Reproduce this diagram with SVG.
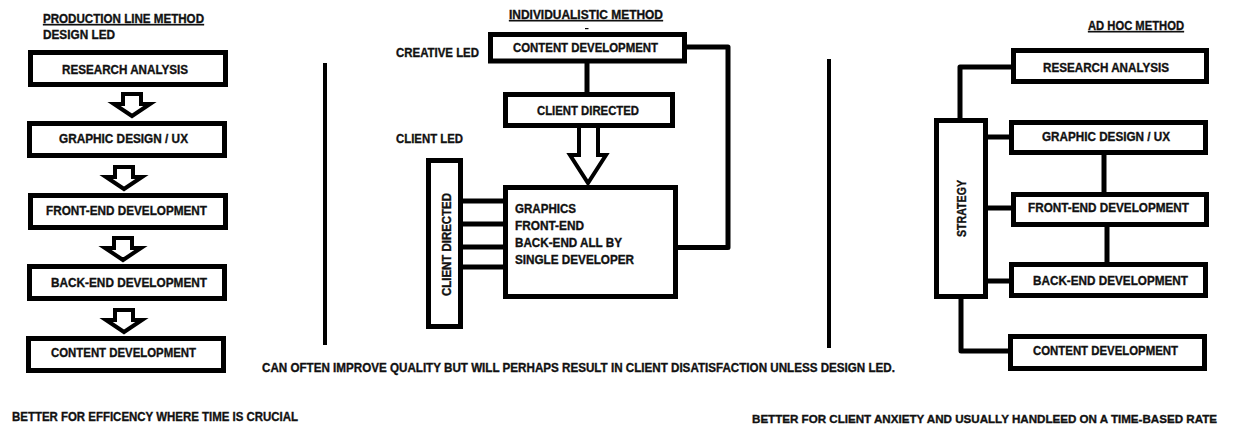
<svg xmlns="http://www.w3.org/2000/svg" xmlns:xlink="http://www.w3.org/1999/xlink" width="1234" height="434" viewBox="0 0 1234 434">
<style>
text{font-family:"Liberation Sans",Arial,sans-serif;font-weight:bold;font-size:12.5px;fill:#111;stroke:#111;stroke-width:0.35px;}
.ul{text-decoration:underline;}
.box{fill:#fff;stroke:#000;stroke-width:5;}
.ln{fill:none;stroke:#000;stroke-width:5;stroke-linejoin:round;}
.sep{fill:none;stroke:#000;stroke-width:4;}
.arw{fill:#fff;stroke:#000;stroke-width:4;stroke-linejoin:miter;}
</style>
<defs>
<path id="blk" class="arw" d="M-9,0 H9 V10 H18 L0,22 L-18,10 H-9 Z"/>
</defs>
<rect width="1234" height="434" fill="#fff"/>

<!-- LEFT: production line -->
<g id="titles-left">
<text class="ul" x="43" y="23" textLength="161" lengthAdjust="spacingAndGlyphs">PRODUCTION LINE METHOD</text>
<text x="43" y="39" textLength="72" lengthAdjust="spacingAndGlyphs">DESIGN LED</text>
</g>
<g id="connectors">
<use xlink:href="#blk" x="132" y="94"/>
<use xlink:href="#blk" x="124" y="167"/>
<use xlink:href="#blk" x="123" y="238"/>
<use xlink:href="#blk" x="124" y="310"/>
<!-- middle -->
<path class="ln" d="M587,63 V93"/>
<path class="arw" d="M579,126 H598 V155 H606 L588,183 L570,155 H579 Z"/>
<path class="ln" d="M686,47 H728 V247.5 H677"/>
<path class="ln" d="M462,201 H505 M462,224 H505 M462,247 H505 M462,267 H505"/>
<!-- right -->
<path class="ln" d="M960,121 V67 H1013"/>
<path class="ln" d="M986,137 H1012 M986,208 H1014 M986,281 H1012"/>
<path class="ln" d="M961,297 V351 H1011"/>
<path class="ln" d="M1104,154 V195 M1107,226 V265"/>
<!-- separators -->
<path class="sep" d="M325,63 V345 M829,59 V348"/>
</g>
<g id="l-research"><rect class="box" x="30.5" y="52.5" width="195" height="32"/><text x="62" y="74" textLength="126" lengthAdjust="spacingAndGlyphs">RESEARCH ANALYSIS</text></g>
<g id="l-graphic"><rect class="box" x="29.5" y="123.5" width="195" height="32"/><text x="59" y="143" textLength="129" lengthAdjust="spacingAndGlyphs">GRAPHIC DESIGN / UX</text></g>
<g id="l-frontend"><rect class="box" x="30.5" y="195.5" width="195" height="32"/><text x="46" y="215" textLength="161" lengthAdjust="spacingAndGlyphs">FRONT-END DEVELOPMENT</text></g>
<g id="l-backend"><rect class="box" x="29.5" y="266.5" width="195" height="32"/><text x="51" y="287" textLength="156" lengthAdjust="spacingAndGlyphs">BACK-END DEVELOPMENT</text></g>
<g id="l-content"><rect class="box" x="28.5" y="338.5" width="195" height="32"/><text x="51" y="357" textLength="145" lengthAdjust="spacingAndGlyphs">CONTENT DEVELOPMENT</text></g>
<g id="l-note"><text x="12" y="421" textLength="286" lengthAdjust="spacingAndGlyphs">BETTER FOR EFFICENCY WHERE TIME IS CRUCIAL</text></g>

<!-- MIDDLE: individualistic -->
<g id="titles-mid">
<text class="ul" x="509" y="19" textLength="154" lengthAdjust="spacingAndGlyphs">INDIVIDUALISTIC METHOD</text>
<rect x="585" y="28" width="3.5" height="1.2" fill="#000"/>
<text x="396" y="57" textLength="83" lengthAdjust="spacingAndGlyphs">CREATIVE LED</text>
<text x="396" y="143" textLength="67" lengthAdjust="spacingAndGlyphs">CLIENT LED</text>
</g>
<g id="m-content"><rect class="box" x="490.5" y="34.5" width="194" height="26.5"/><text x="513" y="52" textLength="145" lengthAdjust="spacingAndGlyphs">CONTENT DEVELOPMENT</text></g>
<g id="m-client"><rect class="box" x="505.5" y="94.5" width="167" height="31"/><text x="537" y="115" textLength="102" lengthAdjust="spacingAndGlyphs">CLIENT DIRECTED</text></g>
<g id="m-single"><rect class="box" x="505.5" y="187.5" width="170" height="109"/>
<text x="515" y="213" textLength="61" lengthAdjust="spacingAndGlyphs">GRAPHICS</text>
<text x="515" y="230" textLength="69" lengthAdjust="spacingAndGlyphs">FRONT-END</text>
<text x="515" y="247" textLength="107" lengthAdjust="spacingAndGlyphs">BACK-END ALL BY</text>
<text x="515" y="264" textLength="119" lengthAdjust="spacingAndGlyphs">SINGLE DEVELOPER</text>
</g>
<g id="m-clientvert"><rect class="box" x="428.5" y="160.5" width="32" height="166"/><text transform="translate(451,296) rotate(-90)" x="0" y="0" textLength="103" lengthAdjust="spacingAndGlyphs">CLIENT DIRECTED</text></g>
<g id="m-note"><text x="262" y="372" textLength="633" lengthAdjust="spacingAndGlyphs">CAN OFTEN IMPROVE QUALITY BUT WILL PERHAPS RESULT IN CLIENT DISATISFACTION UNLESS DESIGN LED.</text></g>

<!-- RIGHT: ad hoc -->
<g id="titles-right"><text class="ul" x="1088" y="30" textLength="96" lengthAdjust="spacingAndGlyphs">AD HOC METHOD</text></g>
<g id="r-strategy"><rect class="box" x="936.5" y="120.5" width="49" height="176"/><text transform="translate(966,237) rotate(-90)" x="0" y="0" textLength="57" lengthAdjust="spacingAndGlyphs">STRATEGY</text></g>
<g id="r-research"><rect class="box" x="1013.5" y="50.5" width="193" height="31"/><text x="1043" y="72" textLength="126" lengthAdjust="spacingAndGlyphs">RESEARCH ANALYSIS</text></g>
<g id="r-graphic"><rect class="box" x="1011.5" y="122.5" width="194" height="30"/><text x="1042" y="141" textLength="128" lengthAdjust="spacingAndGlyphs">GRAPHIC DESIGN / UX</text></g>
<g id="r-frontend"><rect class="box" x="1013.5" y="194.5" width="193" height="30"/><text x="1028" y="212" textLength="161" lengthAdjust="spacingAndGlyphs">FRONT-END DEVELOPMENT</text></g>
<g id="r-backend"><rect class="box" x="1011.5" y="264.5" width="194" height="31"/><text x="1033" y="285" textLength="155" lengthAdjust="spacingAndGlyphs">BACK-END DEVELOPMENT</text></g>
<g id="r-content"><rect class="box" x="1010.5" y="336.5" width="194" height="32"/><text x="1033" y="355" textLength="145" lengthAdjust="spacingAndGlyphs">CONTENT DEVELOPMENT</text></g>
<g id="r-note"><text x="752" y="423" style="font-size:11.5px" textLength="465" lengthAdjust="spacingAndGlyphs">BETTER FOR CLIENT ANXIETY AND USUALLY HANDLEED ON A TIME-BASED RATE</text></g>
</svg>
